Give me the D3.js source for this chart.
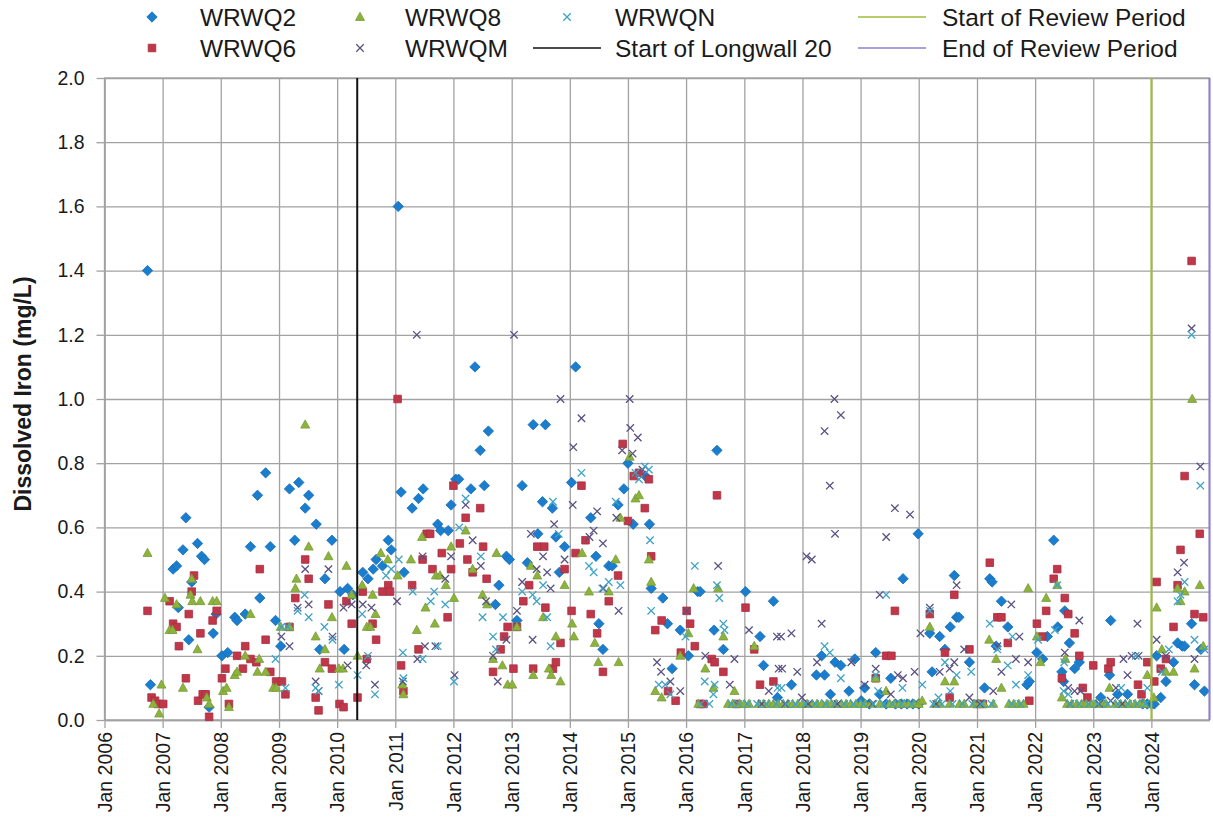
<!DOCTYPE html>
<html>
<head>
<meta charset="utf-8">
<script src="https://cdn.jsdelivr.net/npm/d3@7/dist/d3.min.js"></script>
<style>
  body { margin: 0; background: #fff; }
  svg text { font-family: "Liberation Sans", Arial, sans-serif; fill: #1a1a1a; }
</style>
</head>
<body>
<div id="chart"></div>
<script>
'use strict';

var outerWidth = 1213;
var outerHeight = 823;

// samples as [decimal year, dissolved iron mg/L]
var wrwq2 = [[2006.74,1.40],[2006.79,0.11],[2007.18,0.47],[2007.24,0.48],[2007.27,0.35],[2007.35,0.53],[2007.40,0.63],[2007.45,0.25],[2007.50,0.43],[2007.60,0.55],[2007.67,0.51],[2007.72,0.50],[2007.80,0.04],[2007.87,0.27],[2007.92,0.33],[2008.02,0.20],[2008.12,0.21],[2008.24,0.32],[2008.28,0.31],[2008.42,0.33],[2008.51,0.54],[2008.63,0.70],[2008.67,0.38],[2008.77,0.77],[2008.85,0.54],[2008.94,0.31],[2009.03,0.23],[2009.18,0.72],[2009.27,0.56],[2009.34,0.74],[2009.45,0.66],[2009.51,0.70],[2009.64,0.61],[2009.70,0.22],[2009.79,0.44],[2009.91,0.56],[2010.05,0.40],[2010.12,0.22],[2010.18,0.41],[2010.27,0.39],[2010.44,0.46],[2010.53,0.44],[2010.62,0.47],[2010.67,0.50],[2010.78,0.48],[2010.88,0.56],[2010.93,0.53],[2011.05,1.60],[2011.10,0.71],[2011.15,0.46],[2011.29,0.66],[2011.40,0.69],[2011.48,0.72],[2011.73,0.61],[2011.78,0.59],[2011.91,0.59],[2011.96,0.67],[2012.04,0.75],[2012.09,0.75],[2012.30,0.72],[2012.37,1.10],[2012.46,0.84],[2012.53,0.73],[2012.60,0.90],[2012.72,0.36],[2012.78,0.42],[2012.91,0.51],[2012.96,0.50],[2013.09,0.31],[2013.18,0.73],[2013.27,0.49],[2013.37,0.92],[2013.45,0.58],[2013.53,0.68],[2013.58,0.92],[2013.70,0.66],[2013.76,0.57],[2013.82,0.46],[2013.91,0.54],[2014.03,0.74],[2014.10,1.10],[2014.36,0.63],[2014.45,0.51],[2014.50,0.30],[2014.57,0.22],[2014.67,0.48],[2014.73,0.48],[2014.83,0.67],[2014.93,0.72],[2015.00,0.80],[2015.09,0.61],[2015.30,0.76],[2015.37,0.61],[2015.40,0.41],[2015.60,0.38],[2015.68,0.30],[2015.76,0.16],[2015.90,0.28],[2016.04,0.20],[2016.20,0.40],[2016.24,0.40],[2016.48,0.28],[2016.53,0.84],[2016.64,0.22],[2017.02,0.40],[2017.27,0.26],[2017.33,0.17],[2017.50,0.37],[2017.57,0.07],[2017.81,0.11],[2018.24,0.14],[2018.33,0.20],[2018.38,0.14],[2018.48,0.08],[2018.56,0.18],[2018.66,0.17],[2018.80,0.09],[2018.90,0.19],[2019.01,0.06],[2019.07,0.10],[2019.15,0.05],[2019.26,0.21],[2019.33,0.08],[2019.44,0.05],[2019.52,0.13],[2019.60,0.05],[2019.70,0.05],[2019.73,0.44],[2019.80,0.05],[2019.90,0.05],[2019.99,0.58],[2020.00,0.05],[2020.19,0.27],[2020.23,0.15],[2020.36,0.26],[2020.45,0.22],[2020.54,0.29],[2020.61,0.45],[2020.65,0.32],[2020.69,0.32],[2020.87,0.18],[2021.13,0.10],[2021.22,0.44],[2021.26,0.43],[2021.33,0.23],[2021.42,0.37],[2021.53,0.29],[2021.86,0.11],[2021.90,0.12],[2022.03,0.21],[2022.13,0.19],[2022.21,0.26],[2022.32,0.56],[2022.39,0.29],[2022.46,0.15],[2022.49,0.12],[2022.51,0.34],[2022.59,0.24],[2022.68,0.16],[2022.76,0.18],[2023.13,0.07],[2023.28,0.14],[2023.30,0.31],[2023.42,0.08],[2023.59,0.08],[2023.85,0.05],[2023.93,0.05],[2024.00,0.05],[2024.05,0.05],[2024.09,0.20],[2024.16,0.07],[2024.25,0.12],[2024.38,0.18],[2024.45,0.24],[2024.53,0.23],[2024.57,0.23],[2024.69,0.30],[2024.74,0.11],[2024.85,0.22],[2024.91,0.09]];

var wrwq6 = [[2006.74,0.34],[2006.81,0.07],[2006.87,0.06],[2006.92,0.05],[2007.01,0.05],[2007.12,0.37],[2007.18,0.30],[2007.24,0.29],[2007.28,0.23],[2007.40,0.13],[2007.45,0.33],[2007.50,0.40],[2007.54,0.45],[2007.61,0.06],[2007.65,0.27],[2007.69,0.08],[2007.74,0.08],[2007.80,0.01],[2007.86,0.31],[2007.93,0.34],[2008.02,0.13],[2008.08,0.16],[2008.14,0.05],[2008.28,0.20],[2008.38,0.16],[2008.42,0.23],[2008.51,0.19],[2008.61,0.18],[2008.67,0.47],[2008.77,0.25],[2008.85,0.15],[2008.95,0.12],[2009.05,0.12],[2009.11,0.08],[2009.18,0.29],[2009.28,0.38],[2009.45,0.50],[2009.51,0.44],[2009.63,0.07],[2009.68,0.03],[2009.79,0.18],[2009.85,0.36],[2009.91,0.16],[2010.04,0.05],[2010.11,0.04],[2010.16,0.37],[2010.25,0.30],[2010.35,0.07],[2010.44,0.40],[2010.51,0.19],[2010.61,0.30],[2010.67,0.25],[2010.78,0.40],[2010.88,0.42],[2010.91,0.40],[2011.04,1.00],[2011.10,0.17],[2011.14,0.09],[2011.29,0.42],[2011.40,0.22],[2011.47,0.50],[2011.54,0.58],[2011.60,0.58],[2011.64,0.47],[2011.80,0.52],[2011.90,0.32],[2011.96,0.47],[2012.00,0.73],[2012.11,0.55],[2012.21,0.63],[2012.24,0.50],[2012.33,0.46],[2012.46,0.66],[2012.51,0.54],[2012.57,0.44],[2012.68,0.15],[2012.81,0.22],[2012.87,0.26],[2012.93,0.29],[2013.03,0.16],[2013.09,0.29],[2013.20,0.37],[2013.30,0.42],[2013.37,0.16],[2013.44,0.54],[2013.56,0.54],[2013.58,0.35],[2013.71,0.16],[2013.76,0.18],[2013.84,0.24],[2013.91,0.47],[2014.03,0.34],[2014.10,0.52],[2014.20,0.73],[2014.27,0.56],[2014.36,0.33],[2014.47,0.27],[2014.57,0.15],[2014.67,0.37],[2014.83,0.45],[2014.91,0.86],[2015.00,0.62],[2015.10,0.76],[2015.19,0.77],[2015.29,0.66],[2015.36,0.75],[2015.40,0.51],[2015.47,0.28],[2015.58,0.31],[2015.69,0.09],[2015.82,0.06],[2015.91,0.21],[2016.01,0.34],[2016.07,0.30],[2016.15,0.23],[2016.24,0.05],[2016.30,0.05],[2016.44,0.19],[2016.49,0.18],[2016.53,0.70],[2016.64,0.15],[2016.86,0.05],[2017.02,0.35],[2017.17,0.22],[2017.27,0.11],[2017.50,0.12],[2019.26,0.13],[2019.44,0.20],[2019.53,0.20],[2019.59,0.34],[2020.19,0.33],[2020.45,0.21],[2020.53,0.07],[2020.61,0.39],[2020.87,0.22],[2021.00,0.05],[2021.10,0.05],[2021.22,0.49],[2021.35,0.32],[2021.42,0.32],[2021.53,0.24],[2021.90,0.06],[2022.03,0.30],[2022.12,0.26],[2022.19,0.34],[2022.32,0.44],[2022.38,0.47],[2022.46,0.13],[2022.51,0.38],[2022.57,0.33],[2022.68,0.27],[2022.76,0.20],[2022.82,0.10],[2022.90,0.07],[2023.00,0.17],[2023.26,0.16],[2023.30,0.18],[2023.77,0.11],[2023.83,0.08],[2023.93,0.18],[2024.05,0.12],[2024.09,0.43],[2024.16,0.16],[2024.25,0.19],[2024.38,0.29],[2024.45,0.42],[2024.50,0.53],[2024.57,0.76],[2024.69,1.43],[2024.74,0.33],[2024.83,0.58],[2024.89,0.32]];

var wrwq8 = [[2006.74,0.52],[2006.84,0.05],[2006.94,0.02],[2006.98,0.11],[2007.04,0.38],[2007.12,0.28],[2007.17,0.28],[2007.24,0.36],[2007.35,0.10],[2007.48,0.39],[2007.50,0.44],[2007.51,0.37],[2007.60,0.22],[2007.65,0.37],[2007.76,0.07],[2007.80,0.05],[2007.86,0.37],[2007.93,0.37],[2008.04,0.09],[2008.10,0.10],[2008.14,0.04],[2008.24,0.14],[2008.28,0.15],[2008.42,0.20],[2008.51,0.33],[2008.63,0.15],[2008.66,0.19],[2008.77,0.15],[2008.90,0.10],[2008.95,0.10],[2009.03,0.29],[2009.18,0.29],[2009.28,0.41],[2009.30,0.44],[2009.45,0.92],[2009.51,0.54],[2009.63,0.26],[2009.70,0.16],[2009.79,0.22],[2009.85,0.51],[2009.91,0.32],[2010.03,0.16],[2010.10,0.16],[2010.16,0.48],[2010.25,0.39],[2010.35,0.20],[2010.43,0.42],[2010.51,0.29],[2010.57,0.29],[2010.61,0.39],[2010.66,0.33],[2010.75,0.52],[2010.87,0.50],[2011.04,0.45],[2011.12,0.11],[2011.14,0.08],[2011.27,0.50],[2011.37,0.28],[2011.46,0.57],[2011.52,0.35],[2011.68,0.30],[2011.70,0.45],[2011.77,0.45],[2011.87,0.42],[2011.96,0.54],[2012.01,0.38],[2012.21,0.59],[2012.33,0.47],[2012.50,0.39],[2012.58,0.36],[2012.68,0.19],[2012.74,0.52],[2012.84,0.17],[2012.93,0.11],[2013.01,0.11],[2013.09,0.29],[2013.33,0.48],[2013.37,0.14],[2013.44,0.45],[2013.54,0.32],[2013.64,0.16],[2013.68,0.14],[2013.76,0.26],[2013.84,0.12],[2013.91,0.42],[2014.04,0.30],[2014.07,0.26],[2014.21,0.52],[2014.33,0.40],[2014.43,0.24],[2014.49,0.18],[2014.67,0.40],[2014.79,0.50],[2014.84,0.18],[2014.87,0.63],[2015.03,0.82],[2015.13,0.69],[2015.19,0.70],[2015.36,0.50],[2015.40,0.43],[2015.47,0.09],[2015.58,0.07],[2015.90,0.20],[2016.04,0.27],[2016.13,0.41],[2016.21,0.05],[2016.33,0.16],[2016.47,0.10],[2016.55,0.41],[2016.64,0.26],[2016.72,0.05],[2016.80,0.05],[2016.83,0.09],[2016.92,0.05],[2017.00,0.05],[2017.08,0.05],[2017.17,0.23],[2017.25,0.05],[2017.33,0.05],[2017.42,0.05],[2017.50,0.05],[2017.58,0.05],[2017.67,0.05],[2017.75,0.05],[2017.83,0.05],[2017.92,0.05],[2018.00,0.05],[2018.08,0.05],[2018.17,0.05],[2018.25,0.05],[2018.33,0.05],[2018.42,0.05],[2018.50,0.05],[2018.58,0.05],[2018.67,0.05],[2018.75,0.05],[2018.83,0.05],[2018.92,0.05],[2019.00,0.05],[2019.08,0.05],[2019.17,0.05],[2019.26,0.13],[2019.33,0.05],[2019.44,0.09],[2019.50,0.05],[2019.58,0.05],[2019.67,0.05],[2019.75,0.05],[2019.83,0.05],[2019.92,0.05],[2020.00,0.05],[2020.06,0.06],[2020.19,0.29],[2020.28,0.05],[2020.36,0.05],[2020.45,0.12],[2020.53,0.05],[2020.61,0.12],[2020.70,0.05],[2020.78,0.05],[2020.95,0.05],[2021.03,0.05],[2021.12,0.05],[2021.21,0.25],[2021.28,0.05],[2021.33,0.19],[2021.42,0.10],[2021.55,0.05],[2021.63,0.05],[2021.72,0.05],[2021.80,0.05],[2021.88,0.41],[2022.03,0.26],[2022.09,0.18],[2022.19,0.38],[2022.38,0.42],[2022.46,0.07],[2022.52,0.19],[2022.55,0.05],[2022.63,0.05],[2022.72,0.05],[2022.80,0.05],[2022.88,0.05],[2022.97,0.05],[2023.05,0.05],[2023.17,0.05],[2023.22,0.05],[2023.28,0.10],[2023.38,0.05],[2023.47,0.05],[2023.55,0.05],[2023.63,0.05],[2023.72,0.05],[2023.80,0.05],[2023.88,0.05],[2023.93,0.14],[2024.04,0.07],[2024.09,0.35],[2024.18,0.22],[2024.25,0.15],[2024.38,0.15],[2024.45,0.41],[2024.50,0.37],[2024.57,0.40],[2024.70,1.00],[2024.74,0.16],[2024.83,0.42],[2024.89,0.23]];

var wrwqM = [[2009.04,0.26],[2009.18,0.23],[2009.32,0.35],[2009.45,0.47],[2009.51,0.36],[2009.63,0.12],[2009.68,0.09],[2009.85,0.47],[2009.92,0.26],[2010.11,0.35],[2010.18,0.17],[2010.25,0.36],[2010.44,0.36],[2010.50,0.17],[2010.59,0.35],[2010.65,0.11],[2011.03,0.37],[2011.13,0.12],[2011.37,1.20],[2011.38,0.19],[2011.47,0.51],[2011.51,0.23],[2011.69,0.23],[2011.86,0.44],[2011.96,0.51],[2012.02,0.14],[2012.21,0.67],[2012.33,0.56],[2012.47,0.48],[2012.56,0.37],[2012.68,0.20],[2012.76,0.12],[2012.91,0.25],[2013.04,1.20],[2013.09,0.34],[2013.18,0.43],[2013.33,0.58],[2013.36,0.25],[2013.43,0.47],[2013.54,0.51],[2013.61,0.46],[2013.67,0.41],[2013.73,0.61],[2013.84,1.00],[2013.91,0.50],[2014.05,0.67],[2014.06,0.85],[2014.20,0.94],[2014.34,0.57],[2014.41,0.59],[2014.47,0.65],[2014.57,0.55],[2014.58,0.41],[2014.80,0.63],[2014.84,0.34],[2014.90,0.84],[2015.03,1.00],[2015.04,0.91],[2015.08,0.83],[2015.17,0.88],[2015.25,0.78],[2015.50,0.18],[2015.57,0.15],[2015.73,0.12],[2015.90,0.09],[2016.01,0.34],[2016.33,0.20],[2016.55,0.48],[2016.75,0.11],[2016.83,0.19],[2017.08,0.28],[2017.30,0.05],[2017.42,0.09],[2017.56,0.26],[2017.59,0.16],[2017.63,0.26],[2017.65,0.16],[2017.70,0.05],[2017.81,0.27],[2017.91,0.15],[2017.99,0.07],[2018.07,0.51],[2018.10,0.05],[2018.16,0.50],[2018.25,0.18],[2018.33,0.30],[2018.38,0.90],[2018.47,0.73],[2018.55,1.00],[2018.56,0.58],[2018.60,0.05],[2018.66,0.95],[2018.84,0.18],[2019.07,0.11],[2019.20,0.05],[2019.26,0.16],[2019.33,0.39],[2019.44,0.57],[2019.52,0.08],[2019.59,0.66],[2019.64,0.14],[2019.73,0.13],[2019.85,0.64],[2019.93,0.15],[2020.03,0.27],[2020.19,0.35],[2020.30,0.05],[2020.36,0.15],[2020.53,0.16],[2020.61,0.18],[2020.65,0.42],[2020.78,0.22],[2020.87,0.07],[2021.05,0.05],[2021.28,0.09],[2021.35,0.23],[2021.42,0.15],[2021.59,0.36],[2021.67,0.19],[2021.73,0.26],[2021.88,0.18],[2022.51,0.21],[2022.57,0.10],[2022.60,0.05],[2022.68,0.09],[2022.76,0.31],[2022.78,0.09],[2023.10,0.05],[2023.30,0.06],[2023.39,0.10],[2023.50,0.05],[2023.52,0.19],[2023.59,0.14],[2023.66,0.20],[2023.76,0.30],[2023.78,0.20],[2024.09,0.25],[2024.25,0.20],[2024.45,0.46],[2024.56,0.49],[2024.69,1.22],[2024.74,0.19],[2024.84,0.79]];

var wrwqN = [[2008.94,0.19],[2009.04,0.29],[2009.11,0.10],[2009.15,0.29],[2009.32,0.34],[2009.44,0.39],[2009.51,0.32],[2009.63,0.10],[2009.68,0.09],[2009.78,0.29],[2009.92,0.25],[2010.03,0.11],[2010.35,0.14],[2010.43,0.33],[2010.53,0.20],[2010.65,0.08],[2010.84,0.45],[2010.93,0.47],[2011.06,0.50],[2011.13,0.21],[2011.14,0.13],[2011.30,0.40],[2011.47,0.19],[2011.61,0.37],[2011.67,0.40],[2011.73,0.23],[2011.86,0.36],[2012.01,0.12],[2012.10,0.60],[2012.21,0.69],[2012.47,0.51],[2012.50,0.32],[2012.68,0.26],[2012.73,0.22],[2012.85,0.32],[2013.18,0.40],[2013.36,0.39],[2013.43,0.37],[2013.54,0.42],[2013.61,0.32],[2013.67,0.23],[2013.71,0.68],[2013.81,0.58],[2014.20,0.77],[2014.33,0.48],[2014.41,0.46],[2014.56,0.41],[2014.67,0.43],[2014.79,0.68],[2014.87,0.42],[2015.13,0.77],[2015.19,0.75],[2015.29,0.79],[2015.36,0.78],[2015.38,0.56],[2015.40,0.34],[2015.53,0.11],[2015.64,0.11],[2015.73,0.08],[2015.99,0.26],[2016.15,0.48],[2016.25,0.05],[2016.32,0.12],[2016.40,0.05],[2016.47,0.08],[2016.49,0.11],[2016.53,0.42],[2016.57,0.38],[2016.64,0.30],[2016.66,0.28],[2016.78,0.05],[2016.90,0.05],[2017.05,0.05],[2017.22,0.05],[2017.38,0.05],[2017.55,0.05],[2017.57,0.10],[2017.64,0.10],[2017.72,0.05],[2017.88,0.05],[2018.05,0.05],[2018.22,0.05],[2018.38,0.23],[2018.40,0.05],[2018.47,0.21],[2018.55,0.05],[2018.66,0.13],[2018.72,0.05],[2018.88,0.05],[2019.05,0.05],[2019.22,0.05],[2019.26,0.14],[2019.30,0.09],[2019.40,0.05],[2019.44,0.39],[2019.55,0.05],[2019.70,0.05],[2019.72,0.10],[2019.88,0.05],[2020.06,0.11],[2020.19,0.34],[2020.25,0.05],[2020.34,0.07],[2020.40,0.05],[2020.45,0.18],[2020.54,0.09],[2020.58,0.05],[2020.65,0.14],[2020.75,0.05],[2020.90,0.15],[2020.92,0.05],[2021.08,0.05],[2021.22,0.30],[2021.25,0.05],[2021.35,0.22],[2021.53,0.17],[2021.60,0.05],[2021.61,0.26],[2021.67,0.11],[2021.75,0.05],[2021.88,0.14],[2022.05,0.25],[2022.34,0.28],[2022.38,0.42],[2022.49,0.09],[2022.50,0.18],[2022.57,0.08],[2022.60,0.05],[2022.75,0.05],[2022.92,0.05],[2023.08,0.05],[2023.25,0.05],[2023.42,0.05],[2023.48,0.10],[2023.60,0.05],[2023.73,0.20],[2023.75,0.05],[2023.90,0.05],[2023.93,0.10],[2024.18,0.15],[2024.30,0.22],[2024.45,0.37],[2024.50,0.39],[2024.57,0.43],[2024.69,1.20],[2024.74,0.25],[2024.84,0.73],[2024.91,0.22]];

var seriesNames = ['WRWQ2', 'WRWQ6', 'WRWQ8', 'WRWQM', 'WRWQN'];
var seriesData = [wrwq2, wrwq6, wrwq8, wrwqM, wrwqN];

var eventNames = ['Start of Longwall 20', 'Start of Review Period', 'End of Review Period'];
var eventDates = ['2010-05-07', '2024-01-01', '2024-12-31'];

var yTicks = [0, 0.2, 0.4, 0.6, 0.8, 1.0, 1.2, 1.4, 1.6, 1.8, 2.0];
var xStart = '2006-01-01';
var xEnd = '2024-12-31';

var yTitle = 'Dissolved Iron (mg/L)';

// decimal year -> Date
function toDate(t) {
  var y = Math.floor(t);
  var a = new Date(y, 0, 1), b = new Date(y + 1, 0, 1);
  return new Date(+a + (t - y) * (b - a));
}

var margin = {left: 104.5, right: 3.5, top: 78, bottom: 103};
var width = outerWidth - margin.left - margin.right;
var height = outerHeight - margin.top - margin.bottom;

var parse = d3.timeParse('%Y-%m-%d');

var xScale = d3.scaleTime()
  .domain([parse(xStart), parse(xEnd)])
  .range([0, width]);

var yScale = d3.scaleLinear()
  .domain([0, 2])
  .range([height, 0]);

var svg = d3.select('#chart').append('svg')
  .attr('width', outerWidth)
  .attr('height', outerHeight);

var g = svg.append('g')
  .attr('transform', 'translate(' + margin.left + ',' + margin.top + ')');

var gridColour = '#a2a2a2';

// grid
var yearTicks = d3.timeYear.range(parse(xStart), parse('2025-01-01'));

g.append('g')
  .attr('class', 'grid')
  .attr('transform', 'translate(0,' + height + ')')
  .call(d3.axisBottom(xScale).tickValues(yearTicks).tickSize(-height).tickFormat(''))
  .call(function(a){ a.select('.domain').remove(); });

g.append('g')
  .attr('class', 'grid')
  .call(d3.axisLeft(yScale).tickValues(yTicks).tickSize(-width).tickFormat(''))
  .call(function(a){ a.select('.domain').remove(); });

g.selectAll('.grid line').attr('stroke', gridColour).attr('stroke-width', 1.3);

// plot frame
g.append('rect')
  .attr('width', width)
  .attr('height', height)
  .attr('fill', 'none')
  .attr('stroke', gridColour)
  .attr('stroke-width', 1.3);

// axes
var xAxis = g.append('g')
  .attr('transform', 'translate(0,' + height + ')')
  .call(d3.axisBottom(xScale)
    .tickValues(yearTicks)
    .tickSize(8)
    .tickSizeOuter(0)
    .tickFormat(d3.timeFormat('Jan %Y')));

xAxis.selectAll('text')
  .attr('transform', 'rotate(-90)')
  .attr('text-anchor', 'end')
  .attr('x', -12)
  .attr('y', 0)
  .attr('dy', '0.35em')
  .style('font-size', '19.5px');

var yAxis = g.append('g')
  .call(d3.axisLeft(yScale)
    .tickValues(yTicks)
    .tickSize(8)
    .tickSizeOuter(0)
    .tickPadding(12)
    .tickFormat(d3.format('.1f')));

yAxis.selectAll('text').style('font-size', '19.5px');

g.selectAll('.domain, .tick line').attr('stroke', gridColour).attr('stroke-width', 1.3);
g.selectAll('.grid .domain').remove();

// y title
svg.append('text')
  .attr('transform', 'translate(23,' + (margin.top + height / 2 - 5) + ') rotate(-90)')
  .attr('text-anchor', 'middle')
  .attr('dy', '0.35em')
  .style('font-size', '23px')
  .style('font-weight', 'bold')
  .text(yTitle);

// markers
var styles = [
  {shape: 'diamond',  fill: '#1b7dcd', stroke: '#156db5'},
  {shape: 'square',   fill: '#c0374a', stroke: '#a72f40'},
  {shape: 'triangle', fill: '#8cb33e', stroke: '#789c34'},
  {shape: 'cross',    fill: 'none',    stroke: '#5a5082'},
  {shape: 'cross',    fill: 'none',    stroke: '#3ea2c6'}
];

var shapePath = {
  diamond: 'M0,-5.2L5.2,0L0,5.2L-5.2,0Z',
  square: 'M-3.8,-3.8H3.8V3.8H-3.8Z',
  triangle: 'M0,-4.8L4.5,3.4H-4.5Z',
  cross: 'M-3.7,-3.7L3.7,3.7M-3.7,3.7L3.7,-3.7'
};

function drawMarker(sel, s) {
  sel.append('path')
    .attr('d', shapePath[s.shape])
    .attr('fill', s.fill)
    .attr('stroke', s.stroke)
    .attr('stroke-width', s.shape === 'cross' ? 1.3 : 0.8);
}

seriesData.forEach(function(data, i){
  var pts = g.append('g').attr('class', 'series-' + seriesNames[i])
    .selectAll('g').data(data).enter().append('g')
    .attr('transform', function(d){
      return 'translate(' + xScale(toDate(d[0])) + ',' + yScale(d[1]) + ')';
    });
  drawMarker(pts, styles[i]);
});

// event lines
var eventColours = ['#111111', '#9dbe3a', '#8c7fd3'];

g.selectAll('.event').data(eventDates).enter().append('line')
  .attr('class', 'event')
  .attr('x1', function(d){ return xScale(parse(d)); })
  .attr('x2', function(d){ return xScale(parse(d)); })
  .attr('y1', 0)
  .attr('y2', height)
  .attr('stroke', function(d, i){ return eventColours[i]; })
  .attr('stroke-width', 2);

// legend (two rows, Excel style)
var legendItems = [
  {col: 0, row: 0, kind: 'marker', idx: 0},
  {col: 0, row: 1, kind: 'marker', idx: 1},
  {col: 1, row: 0, kind: 'marker', idx: 2},
  {col: 1, row: 1, kind: 'marker', idx: 3},
  {col: 2, row: 0, kind: 'marker', idx: 4},
  {col: 2, row: 1, kind: 'line', idx: 0},
  {col: 3, row: 0, kind: 'line', idx: 1},
  {col: 3, row: 1, kind: 'line', idx: 2}
];
var colSymbolX = [152, 360, 567, 892];
var colTextX = [200, 405, 615, 942];
var rowY = [17, 48];

var legend = svg.append('g').attr('class', 'legend');

legendItems.forEach(function(it){
  var item = legend.append('g')
    .attr('transform', 'translate(' + colSymbolX[it.col] + ',' + rowY[it.row] + ')');
  if (it.kind === 'marker') {
    drawMarker(item, styles[it.idx]);
  } else {
    item.append('line')
      .attr('x1', -34).attr('x2', 34)
      .attr('stroke', eventColours[it.idx])
      .attr('stroke-width', 1.5);
  }
  legend.append('text')
    .attr('x', colTextX[it.col])
    .attr('y', rowY[it.row])
    .attr('dy', '0.35em')
    .style('font-size', '24.5px')
    .text(it.kind === 'marker' ? seriesNames[it.idx] : eventNames[it.idx]);
});
</script>
</body>
</html>
